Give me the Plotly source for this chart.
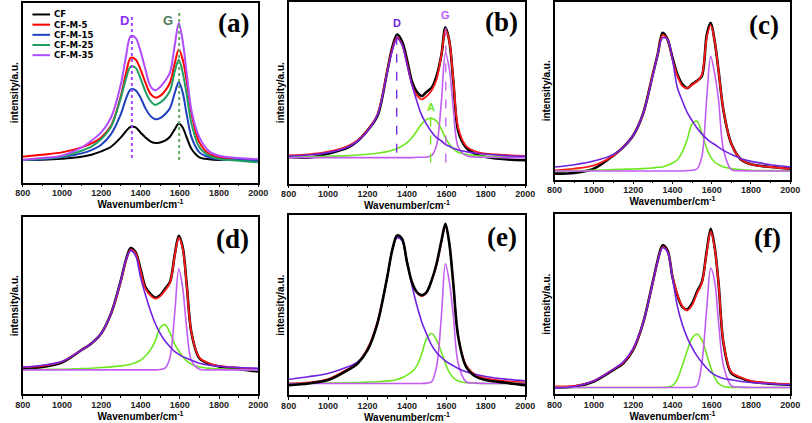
import plotly.graph_objects as go

# ---------------- data (intensity in a.u.) ----------------
WAVENUMBER = [800, 900, 1000, 1100, 1150, 1200, 1250, 1300, 1325, 1350, 1375, 1400, 1425, 1450,
              1475, 1500, 1525, 1550, 1575, 1595, 1615, 1635, 1660, 1700, 1750, 1800, 1900, 2000]

# panel (a)
SERIES_A_NAMES = ["CF", "CF-M-5", "CF-M-15", "CF-M-25", "CF-M-35"]
CF = [68, 69, 72, 78, 84, 94, 108, 136, 154, 168, 166, 151, 136, 124, 119, 121, 126, 138, 161, 178, 166, 136, 101, 76, 70, 68, 68, 68]
CF_M5 = [78, 84, 91, 106, 118, 136, 171, 261, 326, 376, 371, 341, 301, 268, 256, 261, 276, 301, 361, 401, 371, 306, 206, 121, 86, 76, 70, 68]
CF_M15 = [68, 70, 76, 88, 98, 114, 146, 206, 251, 281, 278, 256, 224, 201, 191, 194, 206, 224, 271, 303, 271, 206, 136, 91, 76, 70, 68, 66]
CF_M25 = [68, 72, 78, 96, 108, 131, 168, 256, 311, 349, 346, 314, 274, 246, 234, 241, 254, 276, 336, 370, 331, 266, 176, 106, 81, 71, 66, 61]
CF_M35 = [68, 74, 81, 106, 126, 151, 196, 296, 376, 441, 436, 396, 341, 291, 278, 288, 306, 331, 416, 481, 426, 331, 216, 136, 94, 81, 74, 70]
PEAK_A_D = 1356
PEAK_A_G = 1597
PEAK_A_D_SPAN = [74, 501]
PEAK_A_G_SPAN = [68, 521]

# panel (b)
B_DATA = [80, 78, 90, 108, 128, 160, 203, 338, 408, 448, 428, 373, 308, 276, 263, 276, 288, 323, 388, 470, 428, 308, 158, 108, 88, 80, 73, 70]
B_FIT = [85, 88, 96, 113, 130, 160, 208, 338, 403, 440, 418, 363, 298, 266, 253, 263, 280, 313, 388, 463, 428, 313, 168, 113, 96, 90, 86, 83]
B_D = [83, 86, 93, 110, 128, 158, 206, 333, 398, 436, 418, 358, 298, 248, 205, 178, 155, 138, 128, 118, 112, 106, 101, 96, 91, 88, 84, 82]
B_A = [80, 81, 82, 84, 86, 88, 91, 96, 100, 105, 113, 123, 138, 158, 180, 193, 196, 188, 163, 138, 118, 104, 94, 88, 84, 82, 81, 80]
B_G = [78, 78, 78, 78, 78, 78, 78, 78, 78, 78, 78, 78, 78, 79, 79, 80, 84, 115, 250, 392, 345, 225, 110, 84, 80, 79, 78, 78]
PEAK_B_D = 1348
PEAK_B_A = 1520
PEAK_B_G = 1597
PEAK_B_D_SPAN = [93, 463]
PEAK_B_A_SPAN = [63, 218]
PEAK_B_G_SPAN = [63, 490]

# panel (c)
C_DATA = [18, 20, 33, 73, 98, 133, 198, 318, 378, 443, 423, 368, 318, 288, 276, 288, 298, 313, 438, 473, 418, 328, 208, 108, 60, 46, 38, 33]
C_FIT = [28, 33, 43, 73, 98, 133, 198, 318, 378, 436, 423, 363, 313, 283, 276, 286, 296, 316, 430, 466, 418, 328, 208, 108, 60, 46, 38, 33]
C_D = [38, 45, 56, 76, 98, 133, 198, 313, 378, 428, 423, 363, 278, 238, 203, 178, 156, 138, 123, 113, 106, 98, 88, 76, 63, 55, 45, 38]
C_A = [26, 27, 28, 30, 31, 32, 33, 35, 37, 38, 43, 50, 60, 83, 120, 168, 176, 140, 93, 68, 53, 45, 38, 33, 30, 28, 27, 26]
C_G = [26, 26, 26, 26, 26, 26, 26, 26, 26, 26, 26, 26, 26, 26, 27, 28, 32, 70, 250, 372, 320, 240, 90, 30, 27, 26, 26, 26]

# panel (d)
D_DATA = [75, 82, 95, 133, 153, 183, 243, 343, 403, 441, 428, 378, 323, 303, 291, 298, 318, 338, 423, 478, 443, 333, 183, 108, 91, 83, 75, 68]
D_FIT = [81, 85, 98, 133, 153, 183, 243, 340, 400, 436, 425, 373, 318, 298, 288, 295, 313, 335, 420, 472, 438, 330, 183, 110, 93, 85, 80, 75]
D_D = [81, 87, 98, 133, 153, 183, 243, 343, 403, 433, 418, 353, 300, 253, 213, 183, 160, 143, 128, 120, 113, 108, 102, 93, 87, 84, 80, 78]
D_A = [73, 74, 75, 77, 78, 80, 82, 85, 87, 90, 95, 102, 115, 133, 160, 200, 210, 185, 150, 130, 113, 100, 90, 82, 78, 76, 74, 73]
D_G = [73, 73, 73, 73, 73, 73, 73, 73, 73, 73, 73, 73, 73, 73, 73, 74, 78, 110, 250, 378, 320, 200, 100, 75, 73, 73, 73, 73]

# panel (e)
E_DATA = [30, 35, 45, 75, 95, 135, 215, 355, 435, 480, 470, 400, 340, 310, 300, 310, 345, 395, 465, 515, 455, 335, 175, 85, 55, 45, 37, 30]
E_FIT = [35, 38, 48, 78, 98, 140, 220, 355, 435, 475, 468, 400, 340, 308, 298, 308, 343, 390, 460, 508, 455, 335, 178, 90, 60, 50, 42, 38]
E_D = [47, 55, 65, 85, 100, 135, 215, 355, 435, 473, 465, 405, 330, 270, 220, 183, 150, 128, 113, 103, 95, 88, 80, 70, 62, 56, 48, 43]
E_A = [35, 35, 36, 37, 38, 39, 40, 42, 44, 47, 52, 60, 70, 88, 125, 170, 185, 165, 128, 95, 68, 52, 42, 37, 36, 35, 35, 35]
E_G = [35, 35, 35, 35, 35, 35, 35, 35, 35, 35, 35, 35, 35, 35, 35, 36, 40, 85, 240, 395, 340, 240, 95, 40, 36, 35, 35, 35]

# panel (f)
F_DATA = [20, 23, 38, 73, 93, 133, 213, 338, 403, 448, 433, 353, 298, 263, 255, 273, 308, 338, 433, 498, 443, 333, 153, 63, 48, 38, 31, 28]
F_FIT = [23, 25, 40, 75, 95, 135, 213, 336, 400, 443, 430, 355, 300, 265, 252, 268, 303, 335, 428, 490, 440, 333, 155, 66, 50, 40, 33, 30]
F_D = [18, 23, 40, 75, 97, 138, 213, 336, 400, 441, 428, 350, 265, 210, 170, 140, 115, 95, 78, 66, 58, 52, 47, 43, 38, 35, 31, 28]
F_A = [20, 20, 20, 20, 20, 20, 20, 20, 20, 20, 21, 25, 45, 85, 130, 168, 181, 163, 118, 80, 50, 32, 23, 20, 20, 20, 20, 20]
F_G = [20, 20, 20, 20, 20, 20, 20, 20, 20, 20, 20, 20, 20, 20, 20, 20, 25, 95, 260, 380, 340, 215, 85, 25, 21, 20, 20, 20]

PANEL_LABELS = ["(a)", "(b)", "(c)", "(d)", "(e)", "(f)"]
X_TICKS = [800, 1000, 1200, 1400, 1600, 1800, 2000]

# ---------------- styling / layout ----------------
W, H = 812, 423
# plot boxes in pixels: left, right, top, bottom
BOXES = [(15, 256, 2, 182), (287, 529, 1, 183), (559, 800, 1, 179),
         (15, 256, 217, 394), (287, 529, 215, 395), (559, 800, 214, 394)]
YMAX = [541, 546, 536, 533, 540, 541]
LABEL_POS = [(0.896, 0.889), (0.90, 0.89), (0.888, 0.87), (0.892, 0.881), (0.90, 0.878), (0.905, 0.867)]

COLORS_A = ["#000000", "#ff0000", "#2040c0", "#1f9e62", "#b04bff"]
COL_DATA = "#000000"
COL_FIT = "#ff1a1a"
COL_D = "#6f22e0"
COL_A = "#6ee81e"
COL_G = "#c25cf2"
FONT = "Liberation Sans, Arial, sans-serif"
LEG_FONT = "DejaVu Sans, sans-serif"

fig = go.Figure()


def ax(i):
    return ("x" if i == 0 else f"x{i+1}"), ("y" if i == 0 else f"y{i+1}")


def line(i, x, y, color, width=2.0, dash=None, shape="spline", name=None):
    xa, ya = ax(i)
    fig.add_trace(go.Scatter(
        x=x, y=y, mode="lines", xaxis=xa, yaxis=ya, showlegend=False, name=name,
        line=dict(color=color, width=width, dash=dash, shape=shape, smoothing=0.9),
        hoverinfo="skip"))


# panel (a)
for ys, c, n in zip([CF, CF_M5, CF_M15, CF_M25, CF_M35], COLORS_A, SERIES_A_NAMES):
    line(0, WAVENUMBER, ys, c, width=2.0, name=n)
line(0, [PEAK_A_D, PEAK_A_D], PEAK_A_D_SPAN, "#a447ff", width=2, dash="dot", shape="linear")
line(0, [PEAK_A_G, PEAK_A_G], PEAK_A_G_SPAN, "#62a862", width=2, dash="dot", shape="linear")

fits = [(B_DATA, B_FIT, B_D, B_A, B_G), (C_DATA, C_FIT, C_D, C_A, C_G),
        (D_DATA, D_FIT, D_D, D_A, D_G), (E_DATA, E_FIT, E_D, E_A, E_G),
        (F_DATA, F_FIT, F_D, F_A, F_G)]
for k, (dat, fit, dd, aa, gg) in enumerate(fits):
    i = k + 1
    if i != 4:
        line(i, WAVENUMBER, dat, COL_DATA, width=2.6)
    line(i, WAVENUMBER, fit, COL_FIT, width=1.8)
    line(i, WAVENUMBER, aa, COL_A, width=1.6)
    line(i, WAVENUMBER, gg, COL_G, width=1.6)
    line(i, WAVENUMBER, dd, COL_D, width=1.6)
    if i == 4:
        line(i, WAVENUMBER, dat, COL_DATA, width=2.6)

line(1, [PEAK_B_D, PEAK_B_D], PEAK_B_D_SPAN, COL_D, width=1.3, dash="dash", shape="linear")
line(1, [PEAK_B_A, PEAK_B_A], PEAK_B_A_SPAN, COL_A, width=1.3, dash="dash", shape="linear")
line(1, [PEAK_B_G, PEAK_B_G], PEAK_B_G_SPAN, COL_G, width=1.3, dash="dash", shape="linear")

layout = dict(width=W, height=H, margin=dict(l=0, r=0, t=0, b=0),
              paper_bgcolor="white", plot_bgcolor="white", showlegend=False,
              font=dict(family=FONT, color="black"))
annotations = []
shapes = []
for i, (l, r, t, b) in enumerate(BOXES):
    xk = "xaxis" if i == 0 else f"xaxis{i+1}"
    yk = "yaxis" if i == 0 else f"yaxis{i+1}"
    xa, ya = ax(i)
    layout[xk] = dict(
        domain=[l / W, r / W], anchor=ya, range=[800, 2000],
        tickvals=X_TICKS, ticks="outside", ticklen=3, tickwidth=1, tickcolor="black",
        ticklabelstandoff=-2,
        minor=dict(dtick=100, tick0=800, ticks="outside", ticklen=2, tickcolor="black"),
        showline=True, mirror=True, linecolor="black", linewidth=1.5,
        showgrid=False, zeroline=False,
        tickfont=dict(family=FONT, size=9, weight="bold", color="#222"),
        title=dict(text="Wavenumber/cm<sup>-1</sup>", standoff=0,
                   font=dict(family=FONT, size=10, weight="bold", color="black")))
    layout[yk] = dict(
        domain=[1 - b / H, 1 - t / H], anchor=xa, range=[0, YMAX[i]],
        showticklabels=False, ticks="", showline=True, mirror=True,
        linecolor="black", linewidth=1.5, showgrid=False, zeroline=False,
        title=dict(text="intensity/a.u.", standoff=0,
                   font=dict(family=FONT, size=10, weight="bold", color="black")))
    lx, ly = LABEL_POS[i]
    annotations.append(dict(
        text=PANEL_LABELS[i], xref=f"{xa} domain", yref=f"{ya} domain", x=lx, y=ly,
        showarrow=False, xanchor="center", yanchor="middle",
        font=dict(family="Liberation Serif, Times New Roman, serif", size=27, weight="bold", color="black")))

# peak labels
annotations += [
    dict(text="D", xref="x", yref="y", x=1318, y=488, showarrow=False,
         font=dict(family=FONT, size=13, weight="bold", color="#8a2cf5")),
    dict(text="G", xref="x", yref="y", x=1542, y=488, showarrow=False,
         font=dict(family=FONT, size=13, weight="bold", color="#4f7a5c")),
    dict(text="D", xref="x2", yref="y2", x=PEAK_B_D, y=483, showarrow=False,
         font=dict(family=FONT, size=11, weight="bold", color=COL_D)),
    dict(text="G", xref="x2", yref="y2", x=PEAK_B_G, y=506, showarrow=False,
         font=dict(family=FONT, size=11, weight="bold", color=COL_G)),
    dict(text="A", xref="x2", yref="y2", x=PEAK_B_A, y=231, showarrow=False,
         font=dict(family=FONT, size=11, weight="bold", color=COL_A)),
]

# legend of panel (a), drawn compactly
for k, (n, c) in enumerate(zip(SERIES_A_NAMES, COLORS_A)):
    yp = 1 - (13.5 + 10.2 * k) / H
    shapes.append(dict(type="line", xref="paper", yref="paper", x0=25 / W, x1=43 / W,
                       y0=yp, y1=yp, line=dict(color=c, width=2)))
    annotations.append(dict(text=n, xref="paper", yref="paper", x=45 / W, y=yp,
                            xanchor="left", yanchor="middle", showarrow=False,
                            font=dict(family=LEG_FONT, size=8.6, weight="bold", color="black")))

layout["annotations"] = annotations
layout["shapes"] = shapes
fig.update_layout(**layout)
fig.write_html("out.html", config={"displayModeBar": False},
               post_script="document.body.style.margin='0';document.body.style.overflow='hidden';")
